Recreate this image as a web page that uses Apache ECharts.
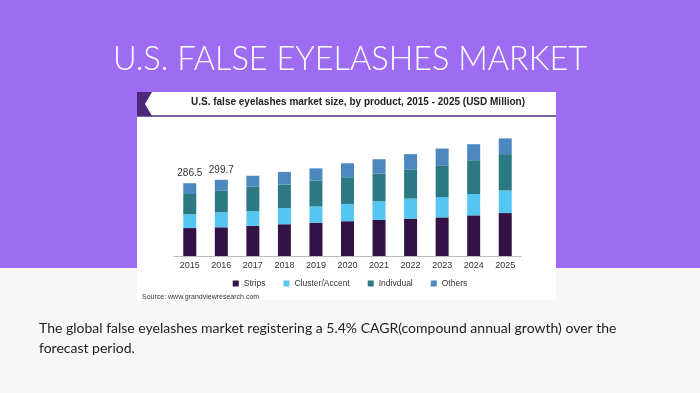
<!DOCTYPE html>
<html>
<head>
<meta charset="utf-8">
<script src="https://cdn.jsdelivr.net/npm/echarts@6/dist/echarts.min.js"></script>
<style>html,body{margin:0;padding:0;background:#f7f7f7}#c{width:700px;height:393px}</style>
</head>
<body>
<div id="c"></div>
<script>
var years = ['2015','2016','2017','2018','2019','2020','2021','2022','2023','2024','2025'];
var strips = [110, 113, 119, 125, 131, 137, 142, 147, 152, 160, 169];
var cluster = [54, 59, 58, 64, 64, 68, 74, 79, 80, 84, 89];
var individual = [80, 85, 96, 92, 102, 105, 109, 115, 125, 133, 143];
var others = [42.5, 43, 43, 50, 48, 55, 56, 60, 66, 63, 62];
var totalLabels = ['286.5', '299.7', '', '', '', '', '', '', '', '', ''];
var seriesNames = ['Strips', 'Cluster/Accent', 'Indivdual', 'Others'];
var colors = ['#331245', '#55c6f2', '#2c7883', '#4d87c0'];

var chart = echarts.init(document.getElementById('c'), null, {renderer: 'canvas'});
var othersData = others.map(function (v, i) {
  return {value: v, label: {show: totalLabels[i] !== '', formatter: totalLabels[i]}};
});
var seriesValues = [strips, cluster, individual, othersData];
var series = seriesNames.map(function (n, i) {
  return {
    name: n, type: 'bar', stack: 'total', barWidth: 13,
    itemStyle: {color: colors[i]},
    label: {show: false, position: 'top', distance: 5, color: '#333', fontSize: 10, fontFamily: 'Liberation Sans'},
    data: seriesValues[i]
  };
});

chart.setOption({
  animation: false,
  backgroundColor: '#f7f7f7',
  graphic: [
    {type: 'rect', shape: {x: 0, y: 0, width: 700, height: 268}, style: {fill: '#9d6cf3'}, z: -10},
    {type: 'rect', shape: {x: 137, y: 92, width: 419, height: 208}, style: {fill: '#ffffff'}, z: -9},
    {type: 'polygon', shape: {points: [[137, 92], [152, 92], [145, 104], [152, 116], [137, 116]]}, style: {fill: '#4a2a78'}, z: -8},
    {type: 'line', shape: {x1: 137, y1: 116, x2: 556, y2: 116}, style: {stroke: '#4b2d7f', lineWidth: 1.5}, z: -8},
    {type: 'text', left: 191, top: 97, style: {text: 'U.S. false eyelashes market size, by product, 2015 - 2025 (USD Million)', font: 'bold 10px "Liberation Sans"', fill: '#222'}},
    {type: 'text', left: 142, top: 294, style: {text: 'Source: www.grandviewresearch.com', font: '7px "Liberation Sans"', fill: '#333'}},
    {type: 'text', left: 39, top: 318, style: {text: 'The global false eyelashes market registering a 5.4% CAGR(compound annual growth) over the\nforecast period.', font: '14px Lato', fill: '#222', lineHeight: 20}}
  ],
  title: {
    text: 'U.S. FALSE EYELASHES MARKET', left: 'center', top: 38,
    textStyle: {color: '#ffffff', fontSize: 32.5, fontWeight: 300, fontFamily: 'Lato'}
  },
  legend: {
    data: seriesNames, top: 279, left: 'center', padding: 0, itemWidth: 6, itemHeight: 6, itemGap: 18,
    icon: 'rect', textStyle: {fontSize: 8.5, color: '#333', fontFamily: 'Liberation Sans'}
  },
  grid: {left: 174, right: 179, top: 129, bottom: 137},
  xAxis: {
    type: 'category', data: years,
    axisLine: {lineStyle: {color: '#bbbbbb'}}, axisTick: {show: false},
    axisLabel: {color: '#333', fontSize: 9, fontFamily: 'Liberation Sans', margin: 5}
  },
  yAxis: {type: 'value', min: 0, max: 500, show: false, splitLine: {show: false}},
  series: series
});
</script>
</body>
</html>
